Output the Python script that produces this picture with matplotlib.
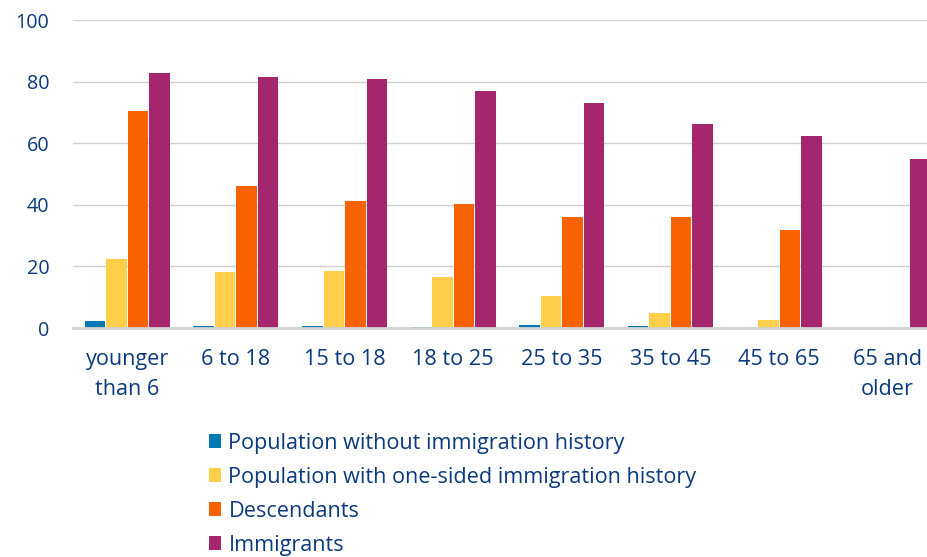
import matplotlib
matplotlib.use("Agg")
import matplotlib.pyplot as plt
import numpy as np
from matplotlib.patches import Patch

categories = ["younger\nthan 6", "6 to 18", "15 to 18", "18 to 25", "25 to 35", "35 to 45", "45 to 65", "65 and\nolder"]
series_names = ["Population without immigration history",
                "Population with one-sided immigration history",
                "Descendants", "Immigrants"]
without_history = [2.3, 0.8, 0.5, 0.4, 1.0, 0.5, 0.1, 0.0]
one_sided = [22.4, 18.1, 18.5, 16.6, 10.4, 5.0, 2.6, 0.0]
descendants = [70.5, 46.2, 41.2, 40.3, 36.0, 36.0, 31.8, 0.0]
immigrants = [82.9, 81.6, 80.8, 77.0, 73.0, 66.3, 62.4, 54.8]
yticks = [0, 20, 40, 60, 80, 100]

colors = ["#0079B2", "#FFCF4C", "#F86200", "#A6266D"]
text_color = "#0B3A7E"

plt.rcParams['font.family'] = ['Open Sans', 'DejaVu Sans']
fs = 15.6

fig = plt.figure(figsize=(9.28, 5.57), dpi=100)
ax = fig.add_axes([73/928, 229/557, 869/928, 308/557])

x = np.arange(len(categories))
w = 0.198
data = [without_history, one_sided, descendants, immigrants]
for i, (vals, c) in enumerate(zip(data, colors)):
    ax.bar(x + (i - 1.5) * w, vals, width=w * 0.95, color=c, edgecolor="none", zorder=3)

ax.set_xlim(-0.5, len(categories) - 0.5)
ax.set_ylim(0, 100)
ax.set_yticks(yticks)
ax.set_xticks(x)
ax.set_xticklabels(categories, fontsize=fs, color=text_color, linespacing=1.6)
ax.tick_params(axis='y', labelsize=14.2, labelcolor=text_color, length=0, pad=17)
ax.tick_params(axis='x', length=0, pad=15)
ax.grid(axis='y', color="#D0D0D0", linewidth=1, zorder=0)
for s in ["top", "right", "left"]:
    ax.spines[s].set_visible(False)
ax.spines["bottom"].set_color("#D3D3D3")
ax.spines["bottom"].set_linewidth(2)
ax.spines["bottom"].set_zorder(4)

handles = [Patch(facecolor=c, edgecolor="none") for c in colors]
leg = fig.legend(handles, series_names, loc="upper left", bbox_to_anchor=(200/928, 1 - 424/557),
                 frameon=False, fontsize=fs, handlelength=0.55, handleheight=0.55,
                 handletextpad=0.36, labelspacing=0.6, borderaxespad=0)
for t in leg.get_texts():
    t.set_color(text_color)

fig.savefig("out.png", dpi=100)
